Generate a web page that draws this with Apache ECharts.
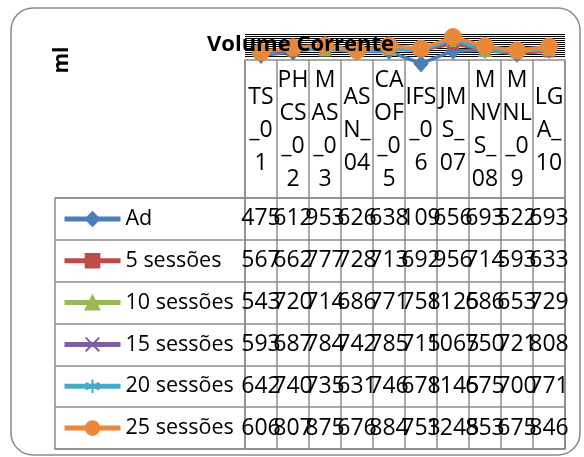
<!DOCTYPE html>
<html><head><meta charset="utf-8">
<script src="https://cdn.jsdelivr.net/npm/echarts@6/dist/echarts.min.js"></script>
<style>html,body{margin:0;padding:0;background:#fff}#c{width:584px;height:457px}</style>
</head><body><div id="c"></div>
<script>
// ---- data ----
const categories = ['TS_01','PHCS_02','MAS_03','ASN_04','CAOF_05','IFS_06','JMS_07','MNVS_08','MNL_09','LGA_10'];
const headerLabels = ['TS\n_0\n1','PH\nCS\n_0\n2','M\nAS\n_0\n3','AS\nN_\n04','CA\nOF\n_0\n5','IFS\n_0\n6','JM\nS_\n07','M\nNV\nS_\n08','M\nNL\n_0\n9','LG\nA_\n10'];
const seriesNames = ['Ad','5 sessões','10 sessões','15 sessões','20 sessões','25 sessões'];
const ad        = [475, 612, 953, 626, 638, 109, 656, 693, 522, 693];
const s5        = [567, 662, 777, 728, 713, 692, 956, 714, 593, 633];
const s10       = [543, 720, 714, 686, 771, 758, 1125, 686, 653, 729];
const s15       = [593, 687, 784, 742, 785, 715, 1065, 750, 721, 808];
const s20       = [642, 740, 735, 631, 746, 678, 1145, 675, 700, 771];
const s25       = [606, 807, 875, 676, 884, 753, 1245, 853, 675, 846];
const yMin = 0, yMax = 1400;
const titleText = 'Volume Corrente';
const yTitle = 'ml';

// ---- styling / layout ----
const seriesValues = [ad, s5, s10, s15, s20, s25];
const colors = ['#4A7EBB', '#BE4B48', '#98B954', '#7D60A0', '#46AAC5', '#E8883A'];
const symbols = ['diamond', 'rect', 'triangle',
  'path://M0,0L10,10M10,0L0,10',
  'path://M5,0L5,10M0,2.5L10,7.5M0,7.5L10,2.5',
  'circle'];
const symSizes = [[14, 16], 11, 13, 11, 12, 17];
const borderW = [1, 1, 1, 2, 2, 1];
const FF = '"Open Sans", sans-serif';
const GRID_COLOR = '#8c8c8c';
const L = 245, TW = 320, rowTop = 198, rowsH = 251, rowH = rowsH / 6;

const grids = [], xAxes = [], yAxes = [];
// 0: plot area (data scale)
grids.push({left: L, top: 33.4, width: TW, height: 32.9});
xAxes.push({type: 'category', gridIndex: 0, data: categories, boundaryGap: true, show: false});
yAxes.push({type: 'value', gridIndex: 0, min: yMin, max: yMax, show: false});
// 1: plot area gridline hatch
grids.push({left: L, top: 34.5, width: TW, height: 22});
xAxes.push({type: 'category', gridIndex: 1, data: categories, boundaryGap: true, show: false});
yAxes.push({type: 'value', gridIndex: 1, min: 0, max: 11, interval: 1,
  axisLabel: {show: false}, axisLine: {show: false}, axisTick: {show: false},
  splitLine: {show: true, lineStyle: {color: '#000', width: 1}}});
// 2: data table columns frame
grids.push({left: L, top: 60, width: TW, height: 389, show: true, borderColor: GRID_COLOR, borderWidth: 1.5, backgroundColor: 'transparent'});
xAxes.push({type: 'category', gridIndex: 2, data: categories, boundaryGap: true,
  axisLine: {show: false}, axisTick: {show: false}, axisLabel: {show: false},
  splitLine: {show: true, interval: 0, lineStyle: {color: GRID_COLOR, width: 1.5}}});
yAxes.push({type: 'value', gridIndex: 2, show: false});
// 3: data table rows frame
grids.push({left: 55, top: rowTop, width: L + TW - 55, height: rowsH, show: true, borderColor: GRID_COLOR, borderWidth: 1.5, backgroundColor: 'transparent'});
xAxes.push({type: 'value', gridIndex: 3, show: false});
yAxes.push({type: 'category', gridIndex: 3, data: seriesNames, boundaryGap: true,
  axisLine: {show: false}, axisTick: {show: false}, axisLabel: {show: false},
  splitLine: {show: true, interval: 0, lineStyle: {color: GRID_COLOR, width: 1.5}}});
// 4: header (category) labels
grids.push({left: L, top: 130, width: TW, height: 0});
xAxes.push({type: 'category', gridIndex: 4, data: categories, boundaryGap: true,
  axisLine: {show: false}, axisTick: {show: false},
  axisLabel: {interval: 0, margin: 0, verticalAlign: 'middle', fontSize: 23, lineHeight: 33, fontFamily: FF, color: '#000',
    formatter: (v, i) => headerLabels[i]}});
yAxes.push({type: 'value', gridIndex: 4, show: false});
// 5..10: value rows of the data table
seriesValues.forEach((vals, k) => {
  const gi = grids.length;
  grids.push({left: L, top: rowTop + rowH * (k + 0.5), width: TW, height: 0});
  xAxes.push({type: 'category', gridIndex: gi, data: categories, boundaryGap: true,
    axisLine: {show: false}, axisTick: {show: false},
    axisLabel: {interval: 0, margin: 0, verticalAlign: 'middle', fontSize: 23, fontFamily: FF, color: '#000',
      formatter: (v, i) => String(vals[i])}});
  yAxes.push({type: 'value', gridIndex: gi, show: false});
});

const series = seriesNames.map((name, k) => ({
  name, type: 'line', xAxisIndex: 0, yAxisIndex: 0, data: seriesValues[k],
  symbol: symbols[k], symbolSize: symSizes[k], showAllSymbol: true, clip: false,
  lineStyle: {color: colors[k], width: 3.5},
  itemStyle: {color: colors[k], borderColor: colors[k], borderWidth: borderW[k]},
  emphasis: {disabled: true}, animation: false
}));

const chart = echarts.init(document.getElementById('c'), null, {renderer: 'canvas'});
chart.setOption({
  backgroundColor: '#fff',
  animation: false,
  title: {text: titleText, left: 207, top: 31, padding: 0,
    textStyle: {fontSize: 22, fontWeight: 'bold', fontFamily: FF, color: '#000', lineHeight: 28}},
  legend: {orient: 'vertical', left: 62, top: rowTop + rowH / 2 - 12, padding: 0,
    itemWidth: 56, itemHeight: 17, itemGap: rowH - 24, selectedMode: false,
    textStyle: {fontSize: 21.5, lineHeight: 24, fontFamily: FF, color: '#000'},
    lineStyle: {width: 5},
    data: seriesNames},
  grid: grids, xAxis: xAxes, yAxis: yAxes, series,
  graphic: [
    {type: 'rect', silent: true, z: -10, shape: {x: 11, y: 8, width: 569, height: 447, r: 22},
      style: {fill: 'none', stroke: '#8a8a8a', lineWidth: 1.5}},
    {type: 'text', silent: true, x: 62, y: 60, rotation: Math.PI / 2,
      style: {text: yTitle, font: 'bold 21px "Open Sans"', fill: '#000', align: 'center', verticalAlign: 'middle'}}
  ]
});
</script></body></html>
